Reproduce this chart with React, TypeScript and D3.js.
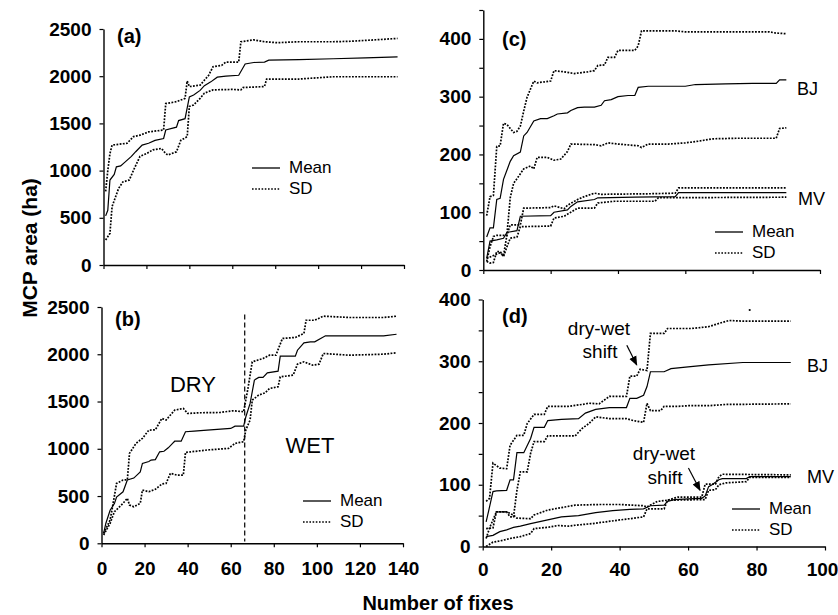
import React, { useEffect, useRef } from 'react';
import { select, scaleLinear, line, axisLeft, axisBottom, range } from 'd3';

type Pt = [number, number];

// (a) pooled fixes: mean MCP area and +/- SD
const aMean: Pt[] = [[1,520],[2,580],[3,900],[5,960],[6,1040],[8,1050],[10,1090],[13,1150],[15,1200],[18,1270],[21,1290],[24,1320],[28,1340],[29,1430],[34,1460],[35,1530],[38,1550],[40,1780],[42,1800],[45,1850],[47,1900],[50,1940],[53,1990],[57,2000],[63,2010],[66,2130],[70,2145],[75,2150],[77,2170],[91,2175],[107,2185],[122,2195],[137,2205]];
const aUpper: Pt[] = [[1,780],[2,1000],[3,1180],[4,1270],[11,1290],[14,1360],[17,1375],[21,1410],[28,1430],[29,1710],[34,1730],[38,1765],[39,1950],[40,1890],[45,1905],[49,2010],[51,2100],[55,2115],[57,2150],[63,2150],[64,2365],[70,2385],[75,2365],[81,2355],[91,2365],[107,2365],[115,2370],[125,2383],[137,2400]];
const aLower: Pt[] = [[1,265],[3,335],[4,620],[7,810],[9,880],[12,900],[14,1005],[17,1150],[20,1180],[23,1220],[27,1235],[29,1180],[30,1165],[34,1200],[36,1320],[39,1360],[40,1680],[42,1695],[45,1765],[47,1820],[51,1855],[60,1860],[64,1855],[65,1880],[75,1890],[76,1970],[91,1970],[99,1982],[107,1994],[137,1994]];

// (b) dry season first, then wet
const bMean: Pt[] = [[1,106],[2,210],[4,350],[6,420],[7,490],[10,545],[12,670],[15,690],[18,755],[19,845],[22,865],[23,880],[25,885],[27,968],[29,974],[31,1010],[33,1057],[34,1080],[37,1080],[39,1180],[43,1186],[49,1198],[60,1215],[62,1239],[66,1240],[67,1336],[69,1480],[71,1727],[73,1755],[75,1755],[77,1804],[82,1821],[83,1980],[90,1980],[91,2043],[94,2120],[97,2131],[99,2131],[104,2195],[115,2195],[131,2195],[137,2212]];
const bUpper: Pt[] = [[1,106],[4,247],[5,370],[7,634],[10,669],[12,672],[13,951],[16,1057],[19,1110],[22,1198],[25,1200],[28,1321],[30,1304],[32,1357],[34,1409],[38,1427],[40,1374],[46,1381],[55,1384],[61,1402],[66,1392],[68,1638],[70,1920],[75,1955],[78,1990],[81,1990],[84,2167],[90,2178],[94,2220],[95,2360],[99,2360],[103,2403],[115,2389],[131,2389],[137,2403]];
const bLower: Pt[] = [[1,88],[4,211],[6,334],[10,423],[12,476],[13,405],[15,387],[18,423],[19,563],[22,546],[25,571],[28,627],[30,634],[32,740],[35,722],[38,722],[39,962],[42,969],[49,987],[59,1004],[62,1057],[66,1075],[67,1198],[69,1304],[70,1515],[73,1568],[76,1592],[78,1638],[82,1656],[83,1761],[89,1779],[91,1895],[94,1920],[98,1885],[101,1895],[103,2008],[115,1990],[131,2001],[137,2015]];
const bShift = 66.5;

// (c) BJ and MV, all fixes
const cBJMean: Pt[] = [[1,57],[2,73],[3,73],[4,122],[5,124],[6,157],[8,188],[9,198],[11,204],[12,232],[13,238],[15,258],[17,262],[19,262],[21,267],[22,270],[25,272],[26,276],[28,281],[30,282],[33,282],[35,285],[36,293],[38,295],[40,300],[43,302],[45,302],[46,316],[49,318],[54,318],[60,318],[63,321],[72,322],[80,323],[87,323],[88,329],[90,329]];
const cBJUpper: Pt[] = [[1,94],[2,127],[3,129],[4,214],[5,215],[6,254],[7,252],[9,238],[10,240],[11,249],[12,275],[13,299],[15,327],[16,324],[20,327],[21,345],[24,343],[27,340],[31,343],[33,345],[34,354],[36,355],[37,368],[39,368],[40,380],[45,380],[46,388],[47,414],[57,414],[60,412],[73,412],[85,412],[87,410],[90,409]];
const cBJLower: Pt[] = [[1,20],[3,25],[5,30],[6,25],[7,60],[8,125],[9,150],[10,158],[12,175],[14,180],[15,175],[16,195],[19,195],[21,190],[23,192],[25,205],[26,218],[33,217],[35,215],[37,220],[40,218],[46,215],[47,212],[49,218],[55,218],[60,220],[64,223],[68,227],[75,228],[87,228],[88,245],[90,246]];
const cMVMean: Pt[] = [[1,20],[2,50],[4,52],[6,55],[7,65],[10,68],[11,93],[20,94],[21,100],[25,104],[26,110],[28,118],[33,122],[34,125],[45,126],[57,127],[58,134],[90,134]];
const cMVUpper: Pt[] = [[1,15],[2,40],[3,58],[4,60],[7,60],[8,78],[11,78],[12,107],[20,108],[21,111],[24,106],[25,112],[28,122],[30,127],[33,133],[35,131],[50,132],[57,133],[58,142],[90,142]];
const cMVLower: Pt[] = [[1,15],[2,12],[3,13],[4,32],[5,32],[6,23],[7,40],[8,55],[10,57],[11,75],[20,76],[21,90],[24,93],[26,100],[28,107],[33,107],[34,116],[39,119],[51,119],[52,125],[90,126]];

// (d) BJ and MV, dry then wet
const dBJMean: Pt[] = [[1,40],[2,64],[3,89],[4,90],[7,91],[8,108],[9,108],[10,152],[12,152],[14,175],[15,193],[18,193],[19,204],[23,206],[28,207],[30,216],[33,222],[37,225],[42,225],[43,240],[45,240],[47,245],[48,259],[49,283],[53,283],[55,288],[60,291],[66,294],[76,298],[90,298]];
const dBJUpper: Pt[] = [[1,73],[2,78],[3,135],[5,127],[7,126],[8,164],[10,180],[12,180],[13,199],[15,214],[18,214],[19,227],[25,227],[29,230],[31,232],[34,231],[37,243],[42,243],[43,276],[45,276],[46,287],[48,285],[49,345],[53,345],[54,353],[61,353],[66,356],[70,363],[72,366],[76,365],[90,365]];
const dBJLower: Pt[] = [[1,13],[2,30],[4,56],[7,56],[8,48],[9,48],[10,91],[11,121],[13,121],[14,151],[15,170],[18,170],[19,179],[27,179],[29,191],[31,199],[33,210],[37,207],[42,207],[44,204],[47,201],[48,232],[49,220],[52,220],[53,227],[57,227],[60,228],[66,228],[71,230],[90,231]];
const dMVMean: Pt[] = [[1,16],[3,18],[5,24],[7,27],[9,31],[11,33],[14,37],[19,43],[23,48],[28,50],[33,55],[38,58],[43,60],[47,61],[49,66],[53,67],[54,73],[56,76],[60,77],[64,78],[65,82],[66,97],[67,100],[69,108],[70,110],[77,110],[78,113],[90,113]];
const dMVUpper: Pt[] = [[1,29],[3,30],[4,56],[7,56],[9,51],[10,46],[14,45],[15,51],[19,59],[22,62],[24,64],[27,67],[34,68],[40,68],[47,66],[48,64],[51,73],[54,75],[57,80],[64,80],[65,101],[68,101],[69,113],[70,117],[90,116]];
const dMVLower: Pt[] = [[1,0],[3,7],[5,9],[8,13],[11,16],[14,21],[15,29],[19,31],[22,34],[25,33],[28,35],[32,37],[36,40],[40,43],[43,45],[47,48],[48,61],[53,61],[54,75],[65,76],[66,91],[68,92],[69,100],[71,103],[77,105],[78,112],[90,112]];
const dStray: Pt[] = [[78,383]];

const FONT = '"Liberation Sans", Arial, Helvetica, sans-serif';

type Series = { pts: Pt[]; sd?: boolean };
type Txt = { t: string; x: number; y: number; anchor?: string; size?: number };

interface PanelProps {
  left: number; right: number; bottom: number; top: number;
  xMax: number; yMax: number; yStep: number; yLabelStep: number;
  xLabels: boolean; xPad?: number;
  tag: Txt;
  series: Series[];
  legend: { x: number; y: number };
  texts?: Txt[];
  arrows?: [Pt, Pt][];
  vline?: number;
  dots?: Pt[];
}

function Panel(p: PanelProps) {
  const xRef = useRef<SVGGElement>(null);
  const yRef = useRef<SVGGElement>(null);
  const x = scaleLinear().domain([0, p.xMax]).range([p.left, p.right]);
  const y = scaleLinear().domain([0, p.yMax]).range([p.bottom, p.top]);

  useEffect(() => {
    const xa = axisBottom(x)
      .tickValues(range(0, p.xMax + 1, 20))
      .tickSize(4).tickSizeOuter(0).tickPadding(p.xPad || 12)
      .tickFormat((d: any) => (p.xLabels ? String(d) : ''));
    const ya = axisLeft(y)
      .tickValues(range(0, p.yMax + 1, p.yStep))
      .tickSize(4).tickSizeOuter(0).tickPadding(8)
      .tickFormat((d: any) => (d % p.yLabelStep === 0 && d <= p.yMax ? String(d) : ''));
    const gx = select(xRef.current).call(xa as any);
    const gy = select(yRef.current).call(ya as any);
    [gx, gy].forEach((g: any) => {
      g.select('.domain').attr('stroke', '#000').attr('stroke-width', 1.4);
      g.selectAll('line').attr('stroke', '#000').attr('stroke-width', 1.2);
      g.selectAll('text')
        .attr('font-family', FONT).attr('font-size', 19).attr('font-weight', 'bold').attr('fill', '#000');
    });
    // keep the last x label inside the page edge
    gx.selectAll('text').filter((d: any) => d === p.xMax && p.xMax === 100).attr('dx', -3);
  }, []);

  const ln = line<Pt>().x(d => x(d[0])).y(d => y(d[1]));
  const L = p.legend;

  return (
    <g>
      <g ref={xRef} transform={`translate(0,${p.bottom})`} />
      <g ref={yRef} transform={`translate(${p.left},0)`} />
      {p.vline !== undefined && (
        <line x1={x(p.vline)} x2={x(p.vline)} y1={y(p.yMax * 0.968)} y2={y(p.yMax * 0.008)}
          stroke="#000" strokeWidth={1.2} strokeDasharray="5 3" />
      )}
      {p.series.map((s, i) => (
        <path key={i} d={ln(s.pts) || ''} fill="none" stroke="#000"
          strokeWidth={s.sd ? 1.7 : 1.2}
          strokeDasharray={s.sd ? '1.8 1.4' : undefined} />
      ))}
      {(p.dots || []).map((d, i) => (
        <circle key={i} cx={x(d[0])} cy={y(d[1])} r={1.1} fill="#000" />
      ))}
      {(p.arrows || []).map((a, i) => (
        <line key={i} x1={x(a[0][0])} y1={y(a[0][1])} x2={x(a[1][0])} y2={y(a[1][1])}
          stroke="#000" strokeWidth={1.2} markerEnd="url(#arrowHead)" />
      ))}
      <text x={p.tag.x} y={p.tag.y} fontFamily={FONT} fontWeight="bold" fontSize={20}>{p.tag.t}</text>
      {(p.texts || []).map((t, i) => (
        <text key={i} x={t.x} y={t.y} textAnchor={t.anchor || 'start'} fontFamily={FONT} fontSize={t.size || 18}>{t.t}</text>
      ))}
      <line x1={L.x} x2={L.x + 28} y1={L.y} y2={L.y} stroke="#000" strokeWidth={1.3} />
      <text x={L.x + 37} y={L.y} dy="0.3em" fontFamily={FONT} fontSize={17}>Mean</text>
      <line x1={L.x} x2={L.x + 28} y1={L.y + 21} y2={L.y + 21} stroke="#000" strokeWidth={1.6} strokeDasharray="1.6 1.6" />
      <text x={L.x + 37} y={L.y + 21} dy="0.3em" fontFamily={FONT} fontSize={17}>SD</text>
    </g>
  );
}

export default function App() {
  return (
    <svg width={838} height={615} style={{ position: 'absolute', left: 0, top: 0, background: '#fff' }}>
      <defs>
        <marker id="arrowHead" viewBox="0 0 10 10" refX="9" refY="5" markerWidth="8" markerHeight="8" orient="auto">
          <path d="M0,1 L10,5 L0,9 z" fill="#000" />
        </marker>
      </defs>
      <rect width={838} height={615} fill="#fff" />
      <Panel left={103.5} right={404} bottom={265} top={29} xMax={140} yMax={2500} yStep={500} yLabelStep={500}
        xLabels={false} tag={{ t: '(a)', x: 117, y: 43 }}
        series={[{ pts: aUpper, sd: true }, { pts: aLower, sd: true }, { pts: aMean }]}
        legend={{ x: 252, y: 168 }} />
      <Panel left={101.5} right={403} bottom={543.3} top={307} xMax={140} yMax={2500} yStep={500} yLabelStep={500}
        xLabels={true} xPad={14} tag={{ t: '(b)', x: 115, y: 326 }} vline={bShift}
        series={[{ pts: bUpper, sd: true }, { pts: bLower, sd: true }, { pts: bMean }]}
        legend={{ x: 303, y: 501 }}
        texts={[{ t: 'DRY', x: 193, y: 391.5, anchor: 'middle', size: 22 }, { t: 'WET', x: 310, y: 453, anchor: 'middle', size: 22 }]} />
      <Panel left={483.3} right={820} bottom={270} top={10} xMax={100} yMax={450} yStep={50} yLabelStep={100}
        xLabels={false} tag={{ t: '(c)', x: 502, y: 46 }}
        series={[{ pts: cBJUpper, sd: true }, { pts: cBJLower, sd: true }, { pts: cBJMean },
          { pts: cMVUpper, sd: true }, { pts: cMVLower, sd: true }, { pts: cMVMean }]}
        legend={{ x: 715, y: 232 }}
        texts={[{ t: 'BJ', x: 797, y: 95 }, { t: 'MV', x: 798, y: 205 }]} />
      <Panel left={482.7} right={825} bottom={546.5} top={299.5} xMax={100} yMax={400} yStep={50} yLabelStep={100}
        xLabels={true} xPad={12} tag={{ t: '(d)', x: 502, y: 323 }}
        series={[{ pts: dBJUpper, sd: true }, { pts: dBJLower, sd: true }, { pts: dBJMean },
          { pts: dMVUpper, sd: true }, { pts: dMVLower, sd: true }, { pts: dMVMean }]}
        legend={{ x: 732, y: 509 }}
        dots={dStray}
        arrows={[[[42.1, 326], [45, 294]], [[60.1, 127], [63.5, 91]]]}
        texts={[{ t: 'BJ', x: 807, y: 371.5 }, { t: 'MV', x: 807, y: 483 },
          { t: 'dry-wet', x: 599, y: 335, anchor: 'middle', size: 19 }, { t: 'shift', x: 600, y: 358, anchor: 'middle', size: 19 },
          { t: 'dry-wet', x: 664, y: 460, anchor: 'middle', size: 19 }, { t: 'shift', x: 665, y: 483.5, anchor: 'middle', size: 19 }]} />
      <text transform="translate(37,248) rotate(-90)" textAnchor="middle" fontFamily={FONT} fontWeight="bold" fontSize={21}>MCP area (ha)</text>
      <text x={438} y={610} textAnchor="middle" fontFamily={FONT} fontWeight="bold" fontSize={20}>Number of fixes</text>
    </svg>
  );
}
